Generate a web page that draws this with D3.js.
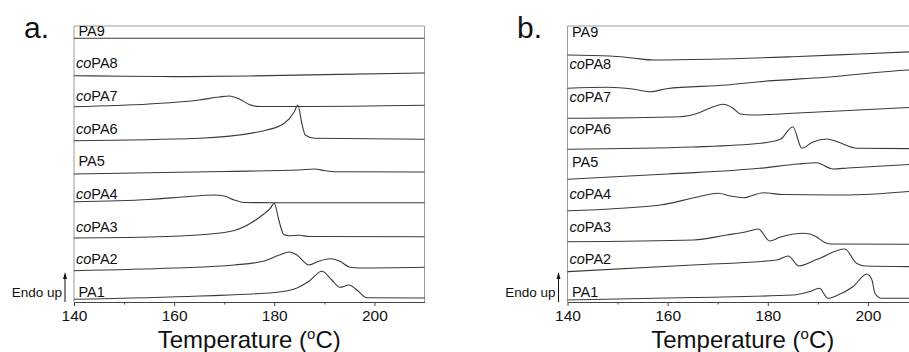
<!DOCTYPE html>
<html>
<head>
<meta charset="utf-8">
<script src="https://cdn.jsdelivr.net/npm/d3@7"></script>
<style>
  body { margin: 0; background: #fff; }
  text { font-family: "Liberation Sans", Arial, sans-serif; fill: #111; }
</style>
</head>
<body>
<svg id="chart" width="909" height="352"></svg>
<script>
// DSC traces, heat flow in arbitrary (stacked) units
// each point is [temperature in degC, heat flow a.u.]
const names = ["PA9", "coPA8", "coPA7", "coPA6", "PA5", "coPA4", "coPA3", "coPA2", "PA1"];
const majorTicks = [140, 160, 180, 200];
const minorTicks = [150, 170, 190];

// panel a.
const aPA9 = [[140, 262.7], [170, 262.8], [210, 262.7]];
const aCoPA8 = [[140, 225.3], [150, 224.7], [160, 224.4], [175, 225], [190, 226.4], [210, 228]];
const aCoPA7 = [[140, 194.3], [155, 197], [165, 201], [169, 204], [171, 205], [173, 202], [175, 196.5], [177, 194.5], [185, 194.5], [210, 195.7]];
const aCoPA6 = [[140, 160.3], [165, 162.7], [178.5, 171], [182, 177.7], [184, 189.3], [184.7, 196], [185.5, 177.7], [186.2, 166], [188, 162.7], [210, 161.7]];
const aPA5 = [[140, 127], [170, 129.5], [185, 131], [188, 132], [190, 130.5], [192, 129.3], [210, 129]];
const aCoPA4 = [[140, 99.3], [155, 101.5], [163, 104.5], [168, 106], [170, 105], [172, 101], [174, 98.5], [180, 98.3], [210, 98.3]];
const aCoPA3 = [[140, 63], [158.5, 64.5], [166, 66.5], [172, 70.5], [177.2, 84.3], [179.2, 92.7], [180, 97.7], [180.9, 81], [181.9, 66.5], [183, 65.3], [185, 65.7], [187, 64.5], [210, 64.3]];
const aCoPA2 = [[140, 30.3], [160, 33], [172, 36], [178, 40], [181, 46], [183, 49], [184.5, 46], [186.9, 36], [189, 40], [191.2, 42.3], [193, 40], [195.2, 33.7], [197, 33], [210, 33.7]];
const aPA1 = [[140, 1.7], [165, 5], [180, 8.5], [184, 12], [187, 20], [189.5, 29.7], [191.5, 21], [193.1, 13.7], [194.9, 16], [196.5, 11], [198.5, 3.3], [210, 3]];

// panel b.
const bPA9 = [[140, 246], [148.5, 245], [153, 243], [157.2, 241], [168.4, 241.7], [185, 244.3], [198.3, 247], [210, 249.5]];
const bCoPA8 = [[140, 212.7], [148, 213.7], [153, 212], [156.5, 209.3], [159.8, 212.3], [171.8, 216], [178.4, 219.3], [191.7, 223.7], [208, 231], [210, 231.5]];
const bCoPA7 = [[140, 182.7], [162.5, 184.3], [166, 187.7], [169, 194], [171.1, 196.7], [173, 193], [174.5, 187], [177, 186], [185, 187.7], [210, 194]];
const bCoPA6 = [[140, 151.7], [165, 154], [178.5, 157.7], [182.5, 161.7], [185, 174.3], [186.8, 152.7], [189, 159], [191.8, 162], [194, 159], [197.8, 152.7], [210, 152.3]];
const bPA5 = [[140, 121.7], [160, 127], [178.4, 132.7], [186, 137], [189.7, 138.3], [193, 132], [196, 133], [210, 137]];
const bCoPA4 = [[140, 90.3], [158.5, 96], [166, 104], [170.1, 107.7], [172.5, 105], [175.1, 103.3], [179.1, 108.3], [183, 106.5], [195, 106], [210, 110.3]];
const bCoPA3 = [[140, 59.3], [165.2, 61], [171.8, 66], [175.5, 69], [178.1, 72], [180.4, 60], [182.4, 63.7], [187.2, 67.7], [189.7, 64.3], [191.1, 59.3], [192.5, 57], [210, 56.7]];
const bCoPA2 = [[140, 29.3], [165, 36], [181.8, 41], [184.1, 45], [186.2, 35], [190, 42], [195.4, 52], [197.7, 37.7], [199.5, 35], [210, 34.3]];
const bPA1 = [[140, 1], [165, 3.5], [185, 6], [188.3, 9.3], [190.3, 12.7], [192, 2.7], [194, 6], [197, 14.3], [199.8, 27], [200.8, 21], [201.4, 7.7], [202.7, 2.7], [210, 2.7]];

const curvesA = [aPA9, aCoPA8, aCoPA7, aCoPA6, aPA5, aCoPA4, aCoPA3, aCoPA2, aPA1];
const curvesB = [bPA9, bCoPA8, bCoPA7, bCoPA6, bPA5, bCoPA4, bCoPA3, bCoPA2, bPA1];

const svg = d3.select("#chart");
const plotTop = 26, plotBottom = 302;

function drawPanel(opts) {
  let x = d3.scaleLinear().domain([140, 210]).range([opts.left, opts.left + 350.5]);
  let y = d3.scaleLinear().domain([-1, 275]).range([plotBottom, plotTop]);
  let g = svg.append("g");

  // frame (left, top, right)
  g.append("path")
    .attr("d", `M${x(140)},${plotBottom}V${plotTop}H${x(210)}V${plotBottom}`)
    .attr("fill", "none")
    .attr("stroke", "#9a9a9a")
    .attr("stroke-width", 1);

  let line = d3.line()
    .x(d => x(d[0]))
    .y(d => y(d[1]))
    .curve(d3.curveMonotoneX);

  g.selectAll(".trace")
    .data(opts.curves)
    .join("path")
    .attr("class", "trace")
    .attr("d", line)
    .attr("fill", "none")
    .attr("stroke", "#3a3a3a")
    .attr("stroke-width", 1.1);

  // curve names
  let ly = d3.scalePoint().domain(names).range([opts.labelTop, 297]);
  let lab = g.selectAll(".name")
    .data(names)
    .join("text")
    .attr("class", "name")
    .attr("x", x(140) + 2)
    .attr("y", d => ly(d))
    .attr("font-size", 14.5);
  lab.each(function (d) {
    let t = d3.select(this);
    if (d.startsWith("co")) {
      t.append("tspan").attr("font-style", "italic").text("co");
      t.append("tspan").text(d.slice(2));
    } else {
      t.append("tspan").attr("dx", 2.5).text(d);
    }
  });

  // x axis
  let ax = g.append("g")
    .attr("transform", `translate(0,${plotBottom})`)
    .call(d3.axisBottom(x).tickValues(majorTicks).tickSize(4).tickSizeOuter(0).tickPadding(4));
  ax.select(".domain").attr("stroke", "#444");
  ax.selectAll(".tick line").attr("stroke", "#444");
  ax.selectAll(".tick text")
    .attr("font-size", 15.5)
    .attr("font-family", "Liberation Sans, Arial, sans-serif")
    .attr("fill", "#111");
  g.append("g")
    .attr("transform", `translate(0,${plotBottom})`)
    .call(d3.axisBottom(x).tickValues(minorTicks).tickSize(2.5).tickFormat(""))
    .call(s => s.select(".domain").remove())
    .selectAll("line").attr("stroke", "#444");

  // axis title
  let title = g.append("text")
    .attr("x", x(175))
    .attr("y", 348)
    .attr("text-anchor", "middle")
    .attr("font-size", 24);
  title.append("tspan").text("Temperature (");
  title.append("tspan").attr("font-size", 15).attr("dy", -9).text("o");
  title.append("tspan").attr("dy", 9).text("C)");

  // panel letter
  g.append("text")
    .attr("x", opts.letterX)
    .attr("y", 38)
    .attr("font-size", 30)
    .text(opts.letter);

  // endo up marker
  let ex = x(140) - 9;
  g.append("text")
    .attr("x", ex - 3)
    .attr("y", 297)
    .attr("text-anchor", "end")
    .attr("font-size", 13.5)
    .text("Endo up");
  g.append("line")
    .attr("x1", ex).attr("x2", ex)
    .attr("y1", 302).attr("y2", 277)
    .attr("stroke", "#111").attr("stroke-width", 1);
  g.append("path")
    .attr("d", `M${ex - 2},${279}L${ex},${272}L${ex + 2},${279}Z`)
    .attr("fill", "#111");
}

drawPanel({ left: 74, curves: curvesA, letter: "a.", letterX: 24, labelTop: 35.5 });
drawPanel({ left: 567.5, curves: curvesB, letter: "b.", letterX: 517, labelTop: 36.5 });
</script>
</body>
</html>
